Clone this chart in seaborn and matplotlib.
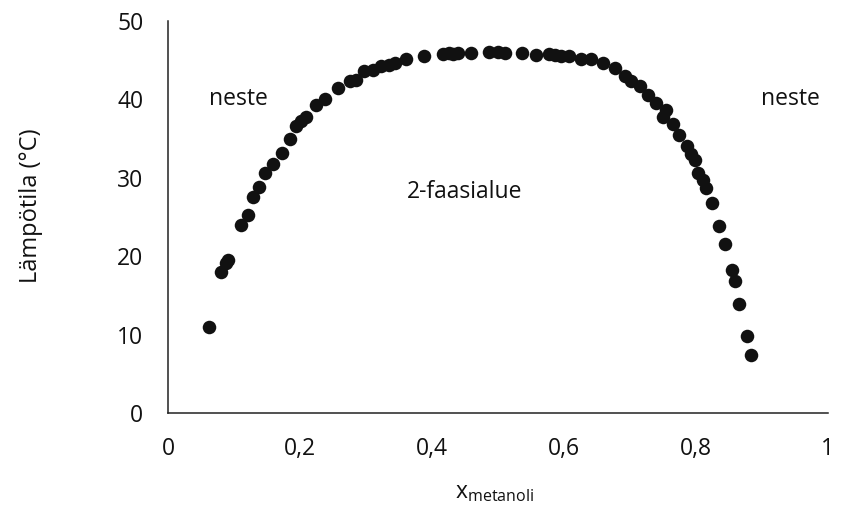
import matplotlib
matplotlib.use("Agg")
import matplotlib.pyplot as plt
import seaborn as sns
import pandas as pd

# Mole fraction of methanol and the measured phase-separation temperature
x_metanoli = [0.061, 0.080, 0.0875, 0.090, 0.110, 0.120, 0.129, 0.137, 0.147, 0.158,
              0.173, 0.185, 0.194, 0.201, 0.209, 0.224, 0.237, 0.257, 0.275, 0.285,
              0.296, 0.310, 0.323, 0.335, 0.343, 0.361, 0.388, 0.416, 0.425, 0.431,
              0.440, 0.459, 0.487, 0.500, 0.510, 0.537, 0.558, 0.578, 0.586, 0.596,
              0.608, 0.626, 0.641, 0.659, 0.677, 0.692, 0.702, 0.715, 0.727, 0.740,
              0.750, 0.755, 0.765, 0.775, 0.786, 0.793, 0.798, 0.803, 0.811, 0.816,
              0.824, 0.835, 0.844, 0.855, 0.859, 0.866, 0.877, 0.883]
lampotila = [11.0, 18.0, 19.1, 19.5, 24.0, 25.3, 27.6, 28.8, 30.6, 31.7,
             33.2, 34.9, 36.6, 37.2, 37.8, 39.3, 40.0, 41.5, 42.3, 42.5,
             43.6, 43.8, 44.2, 44.4, 44.7, 45.1, 45.5, 45.8, 45.9, 45.8,
             45.9, 45.9, 46.0, 46.0, 45.9, 45.9, 45.7, 45.8, 45.7, 45.5,
             45.5, 45.1, 45.1, 44.7, 44.0, 43.0, 42.3, 41.7, 40.5, 39.5,
             37.8, 38.7, 36.8, 35.5, 34.0, 33.0, 32.3, 30.6, 29.7, 28.7,
             26.8, 23.8, 21.6, 18.2, 16.8, 13.9, 9.8, 7.4]

x_ticks = [0, 0.2, 0.4, 0.6, 0.8, 1]
x_tick_labels = ["0", "0,2", "0,4", "0,6", "0,8", "1"]
y_ticks = [0, 10, 20, 30, 40, 50]

sns.set_style("white")
plt.rcParams["font.family"] = ["Open Sans", "DejaVu Sans"]
plt.rcParams["mathtext.fontset"] = "custom"
plt.rcParams["mathtext.rm"] = "Open Sans"

FS = 16.5
INK = "#111111"

df = pd.DataFrame({"x": x_metanoli, "T": lampotila})

fig = plt.figure(figsize=(8.42, 5.07), dpi=100)
ax = fig.add_axes([0.200, 0.1854, 0.783, 0.7732])

sns.scatterplot(data=df, x="x", y="T", ax=ax, s=95, color=INK,
                edgecolor=INK, linewidth=0, legend=False)

ax.set_xlim(0, 1)
ax.set_ylim(0, 50)
ax.set_xticks(x_ticks)
ax.set_xticklabels(x_tick_labels)
ax.set_yticks(y_ticks)
ax.tick_params(axis="both", length=0, labelsize=FS, colors=INK)
ax.tick_params(axis="x", pad=17)
ax.tick_params(axis="y", pad=18)

for side in ["top", "right"]:
    ax.spines[side].set_visible(False)
for side in ["left", "bottom"]:
    ax.spines[side].set_color("#222222")
    ax.spines[side].set_linewidth(1.1)

ax.set_xlabel("")
ax.set_ylabel("")
fig.text(0.037, 0.595, "Lämpötila (°C)", rotation=90, ha="center", va="center",
         fontsize=17, color=INK)
fig.text(0.587, 0.030, r"x$_{\mathrm{metanoli}}$", ha="center", va="center",
         fontsize=FS, color=INK)

ax.text(0.062, 40.0, "neste", ha="left", va="center", fontsize=FS, color=INK)
ax.text(0.944, 40.0, "neste", ha="center", va="center", fontsize=FS, color=INK)
ax.text(0.45, 28.2, "2-faasialue", ha="center", va="center", fontsize=FS, color=INK)

fig.savefig("out.png", dpi=100)
